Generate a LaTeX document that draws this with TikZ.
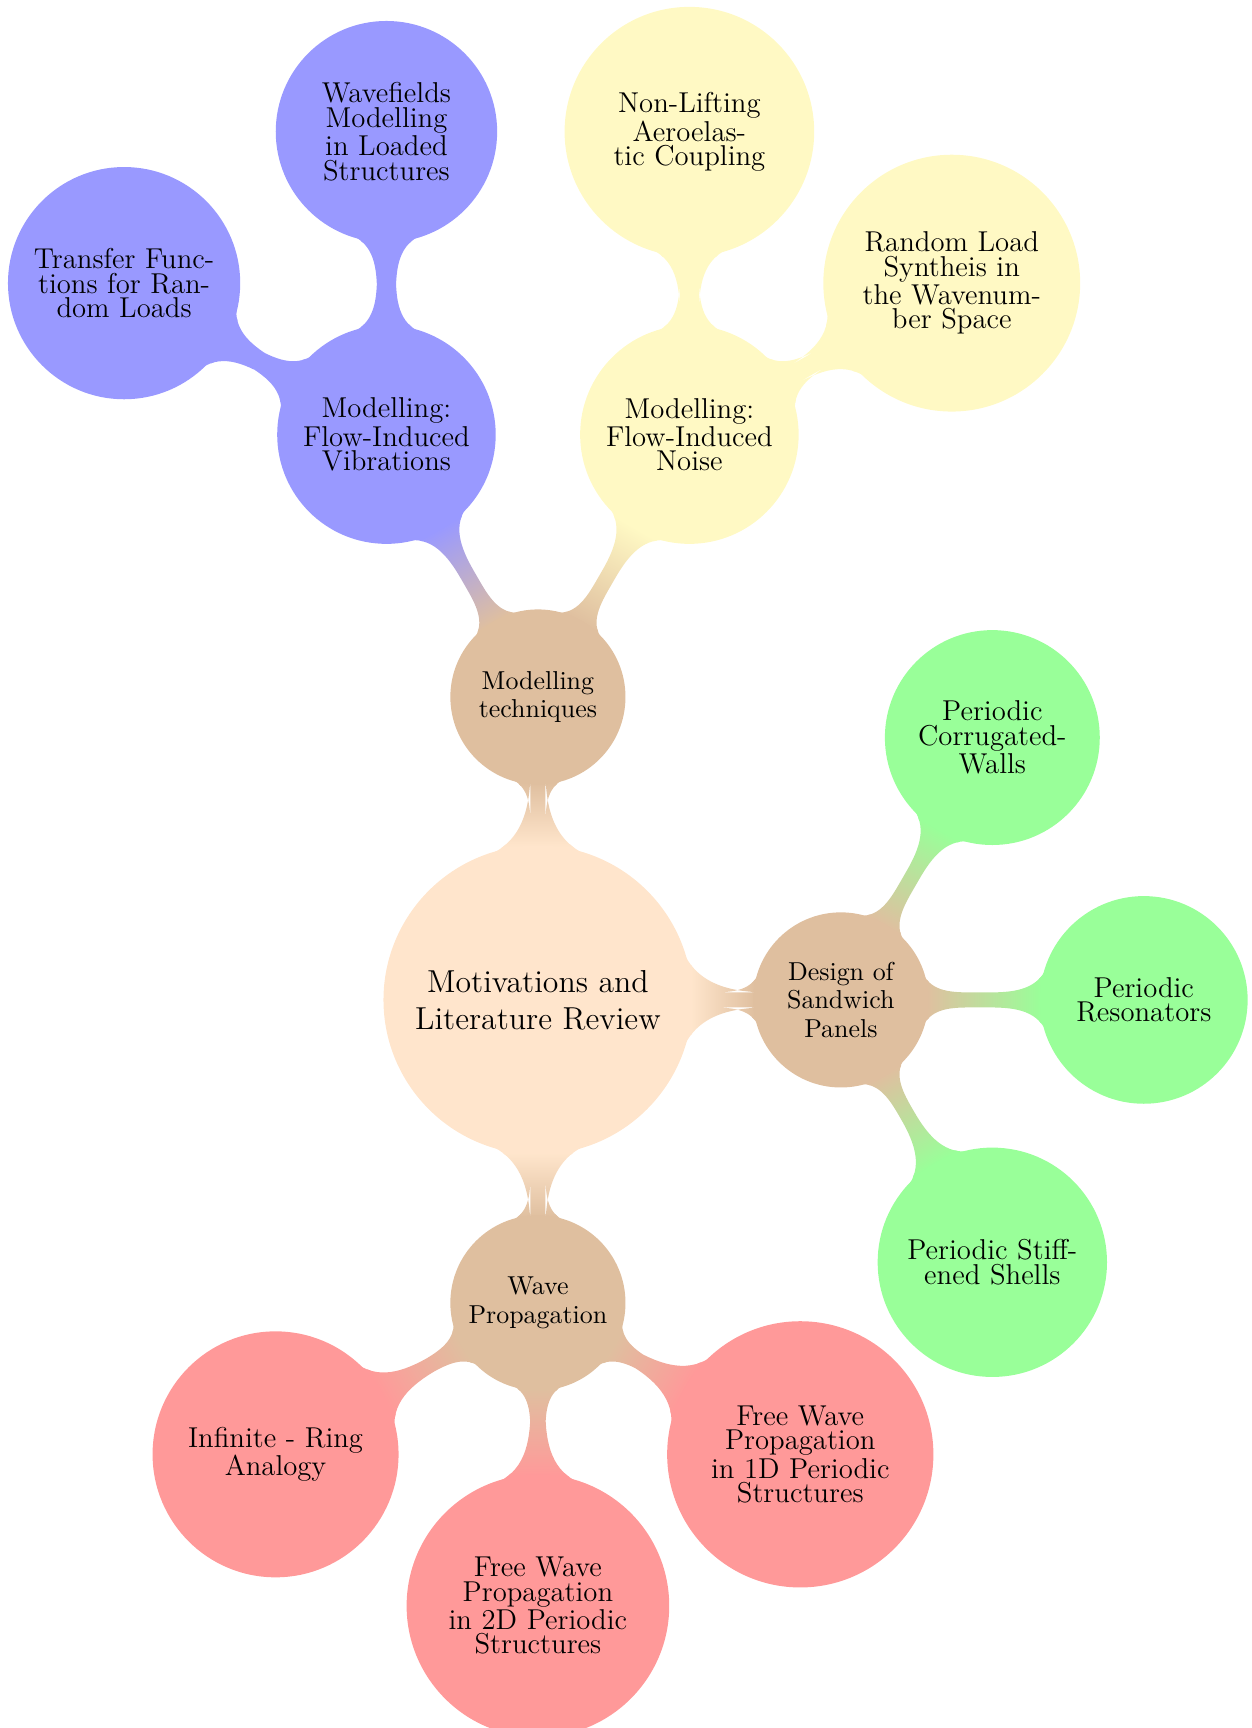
\documentclass[tikz,border=0pt]{standalone}
\usetikzlibrary{mindmap,calc,backgrounds}

\colorlet{rootcol}{orange!20}
\colorlet{topiccol}{brown!50}
\colorlet{vibcol}{blue!40}
\definecolor{noisecol}{HTML}{FFF9C4}
\colorlet{sandcol}{green!40}
\colorlet{wavecol}{red!40}
\newcommand{\lvl}{4.19cm}

\begin{document}
\begin{tikzpicture}[mindmap,
    every concept/.append style={inner sep=0pt, align=center},
    rootc/.style={concept, concept color=rootcol, minimum size=4.23cm, text width=3.6cm, font=\fontsize{12.5}{14.6}\selectfont},
    topic/.style={concept, concept color=topiccol, minimum size=2.38cm, text width=1.95cm, font=\fontsize{10.2}{11.3}\selectfont},
    leaf/.style={concept, text width=2.7cm, font=\fontsize{11.3}{9.6}\selectfont}]

    \useasboundingbox (-7.44,-10.07) rectangle (9.875,13.83);

    \node [rootc] (root) at (0,0) {Motivations and\\Literature Review};

    \node [topic] (MT) at ($(root)+(90:\lvl)$) {Modelling\\techniques};
    \node [topic] (DS) at ($(root)+(0:\lvl)$) {Design of\\Sandwich\\Panels};
    \node [topic] (WP) at ($(root)+(270:\lvl)$) {Wave\\Propagation};

    % Modelling techniques
    \node [leaf, concept color=vibcol, minimum size=2.98cm] (FIV) at ($(MT)+(120:\lvl)$) {Modelling:\\Flow-Induced\\Vibrations};
    \node [leaf, concept color=noisecol, minimum size=2.98cm] (FIN) at ($(MT)+(60:\lvl)$) {Modelling:\\Flow-Induced\\Noise};
    \node [leaf, concept color=vibcol, minimum size=3.02cm] (WLS) at ($(FIV)+(90:\lvl)$) {Wavefields\\Modelling\\in Loaded\\Structures};
    \node [leaf, concept color=vibcol, minimum size=3.17cm] (TFR) at ($(FIV)+(150:\lvl)$) {Transfer Func-\\tions for Ran-\\dom Loads};
    \node [leaf, concept color=noisecol, minimum size=3.41cm] (NLA) at ($(FIN)+(90:\lvl)$) {Non-Lifting\\Aeroelas-\\tic Coupling};
    \node [leaf, concept color=noisecol, minimum size=3.51cm] (RLS) at ($(FIN)+(30:\lvl)$) {Random Load\\Syntheis in\\the Wavenum-\\ber Space};

    % Sandwich panels
    \node [leaf, concept color=sandcol, minimum size=2.93cm] (PCW) at ($(DS)+(60:\lvl)$) {Periodic\\Corrugated-\\Walls};
    \node [leaf, concept color=sandcol, minimum size=2.83cm] (PR) at ($(DS)+(0:\lvl)$) {Periodic\\Resonators};
    \node [leaf, concept color=sandcol, minimum size=3.13cm] (PSS) at ($(DS)+(-60:\lvl)$) {Periodic Stiff-\\ened Shells};

    % Wave propagation
    \node [leaf, concept color=wavecol, minimum size=3.36cm] (IRA) at ($(WP)+(210:\lvl)$) {Infinite - Ring\\Analogy};
    \node [leaf, concept color=wavecol, minimum size=3.59cm] (FW2) at ($(WP)+(270:\lvl)$) {Free Wave\\Propagation\\in 2D Periodic\\Structures};
    \node [leaf, concept color=wavecol, minimum size=3.64cm] (FW1) at ($(WP)+(330:\lvl)$) {Free Wave\\Propagation\\in 1D Periodic\\Structures};

    \begin{pgfonlayer}{background}
        \foreach \a/\b/\ca/\cb in {root/MT/rootcol/topiccol, root/DS/rootcol/topiccol, root/WP/rootcol/topiccol,
                MT/FIV/topiccol/vibcol, MT/FIN/topiccol/noisecol, FIV/WLS/vibcol/vibcol, FIV/TFR/vibcol/vibcol,
                FIN/NLA/noisecol/noisecol, FIN/RLS/noisecol/noisecol,
                DS/PCW/topiccol/sandcol, DS/PR/topiccol/sandcol, DS/PSS/topiccol/sandcol,
                WP/IRA/topiccol/wavecol, WP/FW2/topiccol/wavecol, WP/FW1/topiccol/wavecol}
            \path (\a) to[circle connection bar switch color=from (\ca) to (\cb)] (\b);
    \end{pgfonlayer}

\end{tikzpicture}
\end{document}
